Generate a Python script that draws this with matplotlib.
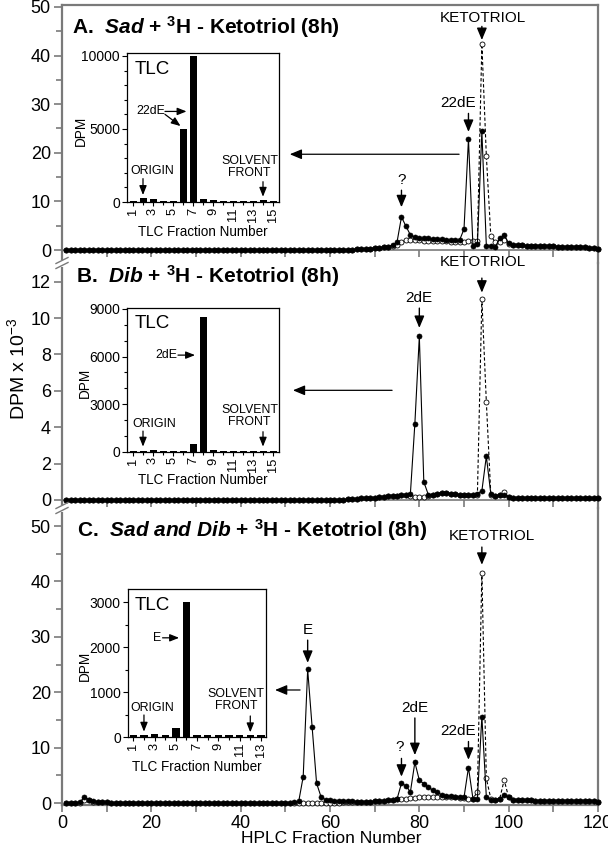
#!/usr/bin/env python3

import matplotlib
matplotlib.use("Agg")
import matplotlib.pyplot as plt
from matplotlib import font_manager
from matplotlib.lines import Line2D
from matplotlib.ticker import MultipleLocator, FuncFormatter

# HPLC fractions 1..120, DPM x 10^-3
FRACTIONS = list(range(1, 121))

# A. Sad + 3H-ketotriol: filled = sample, open = ketotriol standard
SAD_SAMPLE = [
    0, 0, 0, 0, 0, 0, 0, 0, 0, 0,
    0, 0, 0, 0, 0, 0, 0, 0, 0, 0,
    0, 0, 0, 0, 0, 0, 0, 0, 0, 0,
    0, 0, 0, 0, 0, 0, 0, 0, 0, 0,
    0, 0, 0, 0, 0, 0, 0, 0, 0, 0,
    0, 0, 0, 0, 0, 0.1, 0.1, 0.1, 0.1, 0.1,
    0.1, 0.1, 0.1, 0.1, 0.1, 0.2, 0.2, 0.3, 0.3, 0.4,
    0.5, 0.6, 0.7, 1.0, 1.6, 6.8, 4.9, 3.1, 2.6, 2.5,
    2.4, 2.4, 2.3, 2.2, 2.3, 2.1, 2.0, 2.0, 2.0, 4.3,
    22.8, 0.9, 1.3, 24.4, 0.9, 0.8, 0.6, 2.5, 3.0, 1.4,
    1.1, 1.0, 1.0, 0.9, 0.9, 0.9, 0.8, 0.8, 0.8, 0.8,
    0.7, 0.7, 0.7, 0.7, 0.6, 0.6, 0.6, 0.5, 0.5, 0.3,
]
SAD_STANDARD = [
    0, 0, 0, 0, 0, 0, 0, 0, 0, 0,
    0, 0, 0, 0, 0, 0, 0, 0, 0, 0,
    0, 0, 0, 0, 0, 0, 0, 0, 0, 0,
    0, 0, 0, 0, 0, 0, 0, 0, 0, 0,
    0, 0, 0, 0, 0, 0, 0, 0, 0, 0,
    0, 0, 0, 0, 0, 0.1, 0.1, 0.1, 0.1, 0.1,
    0.1, 0.1, 0.1, 0.1, 0.1, 0.2, 0.2, 0.3, 0.3, 0.4,
    0.5, 0.6, 0.6, 0.8, 1.0, 1.6, 2.0, 2.0, 2.0, 2.0,
    1.9, 1.9, 1.9, 1.8, 1.8, 1.8, 1.7, 1.7, 1.6, 1.7,
    1.8, 1.8, 1.9, 42.4, 19.4, 2.9, 1.6, 1.6, 2.0, 1.2,
    1.1, 1.0, 1.0, 0.9, 0.9, 0.9, 0.8, 0.8, 0.8, 0.8,
    0.7, 0.7, 0.7, 0.7, 0.6, 0.6, 0.6, 0.5, 0.5, 0.3,
]

# B. Dib + 3H-ketotriol
DIB_SAMPLE = [
    0, 0, 0, 0, 0, 0, 0, 0, 0, 0,
    0, 0, 0, 0, 0, 0, 0, 0, 0, 0,
    0, 0, 0, 0, 0, 0, 0, 0, 0, 0,
    0, 0, 0, 0, 0, 0, 0, 0, 0, 0,
    0, 0, 0, 0, 0, 0, 0, 0, 0, 0,
    0, 0, 0, 0, 0, 0, 0, 0, 0, 0,
    0, 0, 0, 0.05, 0.05, 0.05, 0.1, 0.1, 0.1, 0.1,
    0.15, 0.15, 0.2, 0.2, 0.2, 0.25, 0.3, 0.35, 4.2, 9.0,
    1.0, 0.3, 0.3, 0.35, 0.4, 0.4, 0.35, 0.35, 0.3, 0.3,
    0.3, 0.3, 0.35, 0.5, 2.4, 0.35, 0.2, 0.3, 0.3, 0.15,
    0.1, 0.1, 0.1, 0.1, 0.1, 0.1, 0.1, 0.1, 0.1, 0.1,
    0.1, 0.1, 0.1, 0.1, 0.1, 0.1, 0.1, 0.1, 0.1, 0.1,
]
DIB_STANDARD = [
    0, 0, 0, 0, 0, 0, 0, 0, 0, 0,
    0, 0, 0, 0, 0, 0, 0, 0, 0, 0,
    0, 0, 0, 0, 0, 0, 0, 0, 0, 0,
    0, 0, 0, 0, 0, 0, 0, 0, 0, 0,
    0, 0, 0, 0, 0, 0, 0, 0, 0, 0,
    0, 0, 0, 0, 0, 0, 0, 0, 0, 0,
    0, 0, 0, 0.05, 0.05, 0.05, 0.1, 0.1, 0.1, 0.1,
    0.15, 0.15, 0.2, 0.2, 0.2, 0.25, 0.3, 0.2, 0.15, 0.15,
    0.15, 0.2, 0.3, 0.35, 0.4, 0.4, 0.35, 0.35, 0.3, 0.3,
    0.3, 0.3, 0.3, 11.05, 5.4, 0.3, 0.2, 0.3, 0.45, 0.15,
    0.1, 0.1, 0.1, 0.1, 0.1, 0.1, 0.1, 0.1, 0.1, 0.1,
    0.1, 0.1, 0.1, 0.1, 0.1, 0.1, 0.1, 0.1, 0.1, 0.1,
]

# C. Sad and Dib + 3H-ketotriol
BOTH_SAMPLE = [
    0, 0, 0, 0.1, 1.1, 0.6, 0.4, 0.2, 0.1, 0.1,
    0, 0, 0, 0, 0, 0, 0, 0, 0, 0,
    0, 0, 0, 0, 0, 0, 0, 0, 0, 0,
    0, 0, 0, 0, 0, 0, 0, 0, 0, 0,
    0, 0, 0, 0, 0, 0, 0, 0, 0, 0,
    0, 0.1, 0.3, 4.75, 24.1, 13.7, 3.55, 1.1, 0.6, 0.5,
    0.4, 0.4, 0.3, 0.3, 0.3, 0.2, 0.2, 0.2, 0.2, 0.3,
    0.3, 0.4, 0.5, 0.6, 0.7, 3.55, 3.1, 2.0, 7.35, 4.1,
    3.5, 2.9, 2.3, 1.9, 1.5, 1.3, 1.2, 1.1, 1.1, 1.0,
    6.4, 0.8, 0.8, 15.6, 1.1, 0.5, 0.6, 0.7, 1.4, 1.0,
    0.6, 0.5, 0.5, 0.5, 0.5, 0.4, 0.4, 0.4, 0.4, 0.4,
    0.3, 0.3, 0.3, 0.3, 0.3, 0.3, 0.3, 0.3, 0.3, 0.2,
]
BOTH_STANDARD = [
    0, 0, 0, 0, 0.6, 0.5, 0.2, 0.1, 0.1, 0.1,
    0, 0, 0, 0, 0, 0, 0, 0, 0, 0,
    0, 0, 0, 0, 0, 0, 0, 0, 0, 0,
    0, 0, 0, 0, 0, 0, 0, 0, 0, 0,
    0, 0, 0, 0, 0, 0, 0, 0, 0, 0,
    0, 0.05, 0.05, 0.05, 0.05, 0.05, 0.05, 0.05, 0.05, 0.05,
    0.05, 0.05, 0.1, 0.1, 0.1, 0.1, 0.1, 0.1, 0.2, 0.3,
    0.3, 0.4, 0.5, 0.6, 0.7, 0.8, 0.8, 0.9, 0.9, 1.0,
    1.0, 1.0, 1.1, 1.1, 1.1, 1.0, 1.0, 1.0, 0.9, 0.9,
    0.8, 0.8, 2.0, 41.6, 4.45, 0.8, 0.6, 0.8, 4.15, 1.0,
    0.6, 0.5, 0.5, 0.5, 0.5, 0.4, 0.4, 0.4, 0.4, 0.4,
    0.3, 0.3, 0.3, 0.3, 0.3, 0.3, 0.3, 0.3, 0.3, 0.2,
]

# TLC insets (DPM per TLC fraction)
TLC_A_FRAC = list(range(1, 16))
TLC_A_DPM = [60, 300, 200, 100, 100, 5000, 10000, 220, 150, 100, 100, 100, 100, 150, 100]
TLC_B_FRAC = list(range(1, 16))
TLC_B_DPM = [40, 40, 100, 40, 40, 40, 480, 8500, 80, 40, 40, 40, 40, 40, 40]
TLC_C_FRAC = list(range(1, 14))
TLC_C_DPM = [40, 40, 70, 60, 200, 3000, 60, 45, 45, 45, 45, 40, 45]

W, H = 608, 850
GRAY = "#7a7a7a"

names = {f.name for f in font_manager.fontManager.ttflist}
HAS_NARROW = "Liberation Sans Narrow" in names
NARROW = "Liberation Sans Narrow" if HAS_NARROW else "Liberation Sans"
NS = 1 / 0.82 if HAS_NARROW else 1.08  # size factor for inset text

plt.rcParams["font.family"] = ["Liberation Sans", "DejaVu Sans"]
plt.rcParams["mathtext.fontset"] = "custom"
plt.rcParams["mathtext.rm"] = "Liberation Sans"
plt.rcParams["mathtext.bf"] = "Liberation Sans:bold"
plt.rcParams["mathtext.it"] = "Liberation Sans:italic"
plt.rcParams["mathtext.bfit"] = "Liberation Sans:bold:italic"

fig = plt.figure(figsize=(W / 100, H / 100), dpi=100)


def px_axes(left, top, right, bottom):
    return fig.add_axes([left / W, 1 - bottom / H, (right - left) / W, (bottom - top) / H])


def style_main(ax, ylim, ymajor, yminor, top=False, bottom_axis=False):
    ax.set_xlim(0, 120)
    ax.set_ylim(*ylim)
    for s in ("left", "right"):
        ax.spines[s].set_color(GRAY)
        ax.spines[s].set_linewidth(1.6)
    ax.spines["top"].set_visible(top)
    ax.spines["top"].set_color(GRAY)
    ax.spines["top"].set_linewidth(1.6)
    ax.spines["bottom"].set_color(GRAY)
    if bottom_axis:
        ax.spines["bottom"].set_linewidth(1.6)
        ax.xaxis.set_major_locator(MultipleLocator(20))
        ax.xaxis.set_minor_locator(MultipleLocator(10))
        ax.tick_params(axis="x", which="both", direction="out", length=5, width=1.2,
                       color=GRAY, labelsize=13, pad=2)
    else:
        ax.spines["bottom"].set_position(("data", 0))
        ax.spines["bottom"].set_linewidth(1.2)
        ax.spines["bottom"].set_zorder(1)
        ax.xaxis.set_major_locator(MultipleLocator(10))
        ax.tick_params(axis="x", which="both", direction="out", length=5, width=1.2,
                       color=GRAY, labelbottom=False)
    ax.yaxis.set_major_locator(MultipleLocator(ymajor))
    if yminor:
        ax.yaxis.set_minor_locator(MultipleLocator(yminor))
    ax.tick_params(axis="y", which="major", direction="out", length=6, width=1.2,
                   color=GRAY, labelsize=13, pad=2)
    ax.tick_params(axis="y", which="minor", direction="out", length=4, width=1.2, color=GRAY)
    ax.patch.set_alpha(0)


def draw_traces(ax, sample, standard):
    ax.plot(FRACTIONS, standard, color="black", lw=0.8, ls=(0, (3, 2)), marker="o",
            ms=3.6, mfc="white", mec="black", mew=0.6, zorder=3, clip_on=False)
    ax.plot(FRACTIONS, sample, color="black", lw=0.8, marker="o", ms=3.6,
            mfc="black", mec="black", mew=0.5, zorder=4, clip_on=False)


ARROW = dict(arrowstyle="-|>,head_length=0.6,head_width=0.25", color="black",
             lw=1.0, mutation_scale=12, shrinkA=0, shrinkB=0)


def label_peak(ax, series, frac, text, tip, tail, text_y, dx=0.0):
    peak = series[frac - 1]
    ax.annotate("", xy=(frac, peak + tip), xytext=(frac, peak + tail), arrowprops=ARROW,
                annotation_clip=False)
    ax.text(frac + dx, peak + text_y, text, ha="center", va="center", fontsize=11)


def pointer(ax, x_from, x_to, y):
    ax.annotate("", xy=(x_to, y), xytext=(x_from, y),
                arrowprops=dict(ARROW, lw=0.9), annotation_clip=False)


SMALL_ARROW = dict(arrowstyle="-|>,head_length=0.55,head_width=0.22", color="black",
                   lw=0.9, mutation_scale=10, shrinkA=0, shrinkB=0)


def tlc_inset(rect, fracs, dpm, ylim, ymajor, yminor, xlim, xlabel_y, dpm_x):
    ax = px_axes(*rect)
    ax.bar(fracs, dpm, width=0.7, color="black", zorder=2)
    ax.set_xlim(*xlim)
    ax.set_ylim(*ylim)
    ax.set_xticks([f for f in fracs if f % 2 == 1])
    ax.set_xticks([f for f in fracs if f % 2 == 0], minor=True)
    ax.set_xticklabels([str(f) for f in fracs if f % 2 == 1], rotation=90,
                       fontsize=9.3, family=NARROW)
    ax.yaxis.set_major_locator(MultipleLocator(ymajor))
    ax.yaxis.set_minor_locator(MultipleLocator(yminor))
    ax.yaxis.set_major_formatter(FuncFormatter(lambda v, p: f"{int(v)}"))
    for lab in ax.get_yticklabels():
        lab.set_family(NARROW)
    ax.tick_params(axis="y", which="major", direction="out", length=3.5, width=0.8,
                   labelsize=9.3 * NS, pad=1.5)
    ax.tick_params(axis="x", which="major", direction="out", length=3, width=0.8,
                   labelsize=9.3, pad=1)
    ax.tick_params(axis="both", which="minor", direction="out", length=2, width=0.8)
    for s in ax.spines.values():
        s.set_linewidth(0.9)
    ax.text(0.053, 0.89, "TLC", transform=ax.transAxes, ha="left", va="center",
            fontsize=12.5 * NS, family=NARROW)
    ax.text(dpm_x, 0.48, "DPM", transform=ax.transAxes, ha="center", va="center",
            rotation=90, fontsize=9.1 * NS, family=NARROW)
    ax.text(0.5, xlabel_y, "TLC Fraction Number", transform=ax.transAxes, ha="center",
            va="center", fontsize=9.0 * NS, family=NARROW)
    return ax


def inset_note(ax, x, y, text, ha="center"):
    ax.text(x, y, text, ha=ha, va="center", fontsize=8.3 * NS, family=NARROW,
            linespacing=1.0, multialignment="center")


def inset_arrow(ax, x0, y0, x1, y1):
    ax.annotate("", xy=(x1, y1), xytext=(x0, y0), arrowprops=SMALL_ARROW,
                annotation_clip=False)


# ---- main panels ----
axA = px_axes(62, 5, 598, 263)
axB = px_axes(62, 263, 598, 508)
axC = px_axes(62, 508, 598, 805)

style_main(axA, (-2.67, 50.4), 10, 5, top=True)
style_main(axB, (-0.44, 13.03), 2, None)
style_main(axC, (-0.36, 53.25), 10, 5, bottom_axis=True)

draw_traces(axA, SAD_SAMPLE, SAD_STANDARD)
draw_traces(axB, DIB_SAMPLE, DIB_STANDARD)
draw_traces(axC, BOTH_SAMPLE, BOTH_STANDARD)

title_kw = dict(fontsize=15, fontweight="bold", ha="left", va="baseline")
axA.text(0.019, 0.89, r"A.  $\mathbfit{Sad}$ + $^{\mathbf{3}}$H - Ketotriol (8h)",
         transform=axA.transAxes, **title_kw)
axB.text(0.026, 0.918, r"B.  $\mathbfit{Dib}$ + $^{\mathbf{3}}$H - Ketotriol (8h)",
         transform=axB.transAxes, **title_kw)
axC.text(0.028, 0.903, r"C.  $\mathbfit{Sad\ and\ Dib}$ + $^{\mathbf{3}}$H - Ketotriol (8h)",
         transform=axC.transAxes, **title_kw)

label_peak(axA, SAD_STANDARD, 94, "KETOTRIOL", 0.8, 3.6, 5.3, dx=0.3)
label_peak(axA, SAD_SAMPLE, 91, "22dE", 1.5, 5.3, 7.4, dx=-2.3)
label_peak(axA, SAD_SAMPLE, 76, "?", 2.0, 5.5, 7.6)

label_peak(axB, DIB_STANDARD, 94, "KETOTRIOL", 0.35, 1.15, 2.03, dx=0.3)
label_peak(axB, DIB_SAMPLE, 80, "2dE", 0.46, 1.55, 2.1, dx=-0.1)

label_peak(axC, BOTH_STANDARD, 94, "KETOTRIOL", 1.4, 4.6, 6.6, dx=2.2)
label_peak(axC, BOTH_SAMPLE, 55, "E", 1.2, 5.3, 7.1)
label_peak(axC, BOTH_SAMPLE, 79, "2dE", 1.3, 8.0, 9.8, dx=-0.1)
label_peak(axC, BOTH_SAMPLE, 76, "?", 1.2, 4.5, 6.55, dx=-0.4)
label_peak(axC, BOTH_SAMPLE, 91, "22dE", 1.4, 4.7, 6.6, dx=-2.3)

pointer(axA, 88.9, 51.0, 19.7)
pointer(axB, 73.9, 51.7, 6.03)
pointer(axC, 53.3, 47.7, 20.4)

axB.set_ylabel(r"DPM x 10$^{-3}$", fontsize=14)
axB.yaxis.set_label_coords(-0.064, 0.57)
axC.set_xlabel("HPLC Fraction Number", fontsize=12.5)
axC.xaxis.set_label_coords(0.502, -0.088)

# broken-axis marks on the left spine
for yb in (263, 508):
    fig.add_artist(Line2D([58.5 / W, 65.5 / W], [1 - yb / H, 1 - yb / H], color="white",
                          lw=5, solid_capstyle="butt"))
    for off in (-2.5, 2.5):
        fig.add_artist(Line2D([56 / W, 68 / W], [1 - (yb + off + 3) / H, 1 - (yb + off - 3) / H],
                              color=GRAY, lw=1.0))

# ---- TLC insets ----
insA = tlc_inset((127, 53, 279, 202), TLC_A_FRAC, TLC_A_DPM, (0, 10200), 5000, 1000,
                 (0.4, 15.6), -0.2, -0.306)
inset_note(insA, 1.3, 6250, "22dE", ha="left")
inset_arrow(insA, 4.2, 6200, 6.35, 6200)
inset_arrow(insA, 4.2, 6000, 5.75, 5200)
inset_note(insA, 2.95, 2140, "ORIGIN")
inset_arrow(insA, 2, 1600, 2, 480)
inset_note(insA, 12.67, 2420, "SOLVENT\nFRONT")
inset_arrow(insA, 14, 1390, 14, 360)

insB = tlc_inset((127, 307.7, 279, 451.7), TLC_B_FRAC, TLC_B_DPM, (0, 9080), 3000, 1000,
                 (0.4, 15.6), -0.2, -0.276)
inset_note(insB, 3.2, 6090, "2dE", ha="left")
inset_arrow(insB, 5.5, 6090, 7.2, 6090)
inset_note(insB, 3.1, 1770, "ORIGIN")
inset_arrow(insB, 2, 1300, 2, 320)
inset_note(insB, 12.67, 2270, "SOLVENT\nFRONT")
inset_arrow(insB, 14, 1260, 14, 320)

insC = tlc_inset((127.7, 589, 265.7, 737.3), TLC_C_FRAC, TLC_C_DPM, (0, 3290), 1000, 500,
                 (0.47, 13.45), -0.2, -0.31)
inset_note(insC, 2.88, 2207, "E", ha="left")
inset_arrow(insC, 3.75, 2207, 5.3, 2207)
inset_note(insC, 2.77, 644, "ORIGIN")
inset_arrow(insC, 2, 495, 2, 125)
inset_note(insC, 10.68, 829, "SOLVENT\nFRONT")
inset_arrow(insC, 12, 473, 12, 111)

fig.savefig("out.png", dpi=100)
